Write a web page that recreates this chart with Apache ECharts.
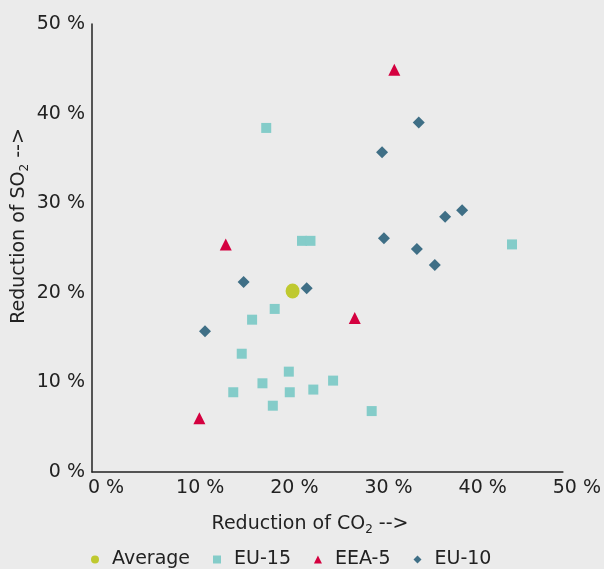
<!DOCTYPE html>
<html>
<head>
<meta charset="utf-8">
<script src="https://cdn.jsdelivr.net/npm/echarts@6/dist/echarts.min.js"></script>
<style>
    html, body {margin: 0; padding: 0; background: #ebebeb;}
    #chart {width: 604px; height: 569px;}
</style>
</head>
<body>
<div id="chart"></div>
<script>
// 数据: [CO2 减排 %, SO2 减排 %]
var aAverage = [[21.3, 20.2]];
var aEU15 = [
    [18.5, 38.4], [22.3, 25.8], [23.2, 25.8], [44.6, 25.4], [19.4, 18.2],
    [17.0, 17.0], [15.9, 13.2], [20.9, 11.2], [18.1, 9.9], [15.0, 8.9],
    [21.0, 8.9], [19.2, 7.4], [23.5, 9.2], [25.6, 10.2], [29.7, 6.8]
];
var aEEA5 = [[32.1, 44.9], [14.2, 25.4], [27.9, 17.2], [11.4, 6.0]];
var aEU10 = [
    [34.7, 39.0], [30.8, 35.7], [39.3, 29.2], [37.5, 28.5], [31.0, 26.1],
    [34.5, 24.9], [36.4, 23.1], [22.8, 20.5], [16.1, 21.2], [12.0, 15.7]
];
var aLegend = ['Average', 'EU-15', 'EEA-5', 'EU-10'];

var sFont = 'DejaVu Sans';
var sText = '#222';
var iFont = 19;

function PctLabel(v) {
    return v + ' %';
}

var jOption = {
    backgroundColor: '#ebebeb',
    animation: false,
    textStyle: {fontFamily: sFont},
    grid: {left: 92, top: 24, right: 41, bottom: 97},
    legend: {
        data: aLegend,
        top: 550,
        left: 91,
        padding: 0,
        itemWidth: 8,
        itemHeight: 8,
        itemGap: 23,
        textStyle: {
            fontFamily: sFont, fontSize: iFont, color: sText,
            width: 80, padding: [0, 0, 0, 8]
        }
    },
    xAxis: {
        type: 'value',
        min: 0, max: 50, interval: 10,
        splitLine: {show: false},
        axisTick: {show: false},
        axisLine: {lineStyle: {color: '#222', width: 1.5}},
        axisLabel: {
            formatter: PctLabel, fontSize: iFont, color: sText, margin: 7,
            padding: [0, 0, 0, 28]
        }
    },
    yAxis: {
        type: 'value',
        min: 0, max: 50, interval: 10,
        splitLine: {show: false},
        axisTick: {show: false},
        axisLine: {show: true, lineStyle: {color: '#222', width: 1.5}},
        axisLabel: {formatter: PctLabel, fontSize: iFont, color: sText, margin: 7}
    },
    graphic: [
        {   // x 轴标题
            type: 'text',
            x: 310, y: 524,
            style: {
                text: 'Reduction of CO{sub|2} -->',
                align: 'center', verticalAlign: 'middle',
                font: iFont + 'px ' + sFont, fill: sText,
                rich: {sub: {fontSize: 12, fontFamily: sFont, fill: sText, padding: [11, 0, 0, 0]}}
            }
        },
        {   // y 轴标题
            type: 'text',
            x: 19, y: 226,
            rotation: Math.PI / 2,
            style: {
                text: 'Reduction of SO{sub|2} -->',
                align: 'center', verticalAlign: 'middle',
                font: iFont + 'px ' + sFont, fill: sText,
                rich: {sub: {fontSize: 12, fontFamily: sFont, fill: sText, padding: [11, 0, 0, 0]}}
            }
        }
    ],
    series: [
        {
            name: 'Average', type: 'scatter', data: aAverage,
            symbol: 'circle', symbolSize: [14, 15], z: 3,
            itemStyle: {color: '#bfc92f', opacity: 1}
        },
        {
            name: 'EU-15', type: 'scatter', data: aEU15,
            symbol: 'rect', symbolSize: 10,
            itemStyle: {color: '#84ccc9', opacity: 1}
        },
        {
            name: 'EEA-5', type: 'scatter', data: aEEA5,
            symbol: 'triangle', symbolSize: 12,
            itemStyle: {color: '#d4003f', opacity: 1}
        },
        {
            name: 'EU-10', type: 'scatter', data: aEU10,
            symbol: 'diamond', symbolSize: 12,
            itemStyle: {color: '#3f6f86', opacity: 1}
        }
    ]
};

var myChart = echarts.init(document.getElementById('chart'));
myChart.setOption(jOption);
</script>
</body>
</html>
